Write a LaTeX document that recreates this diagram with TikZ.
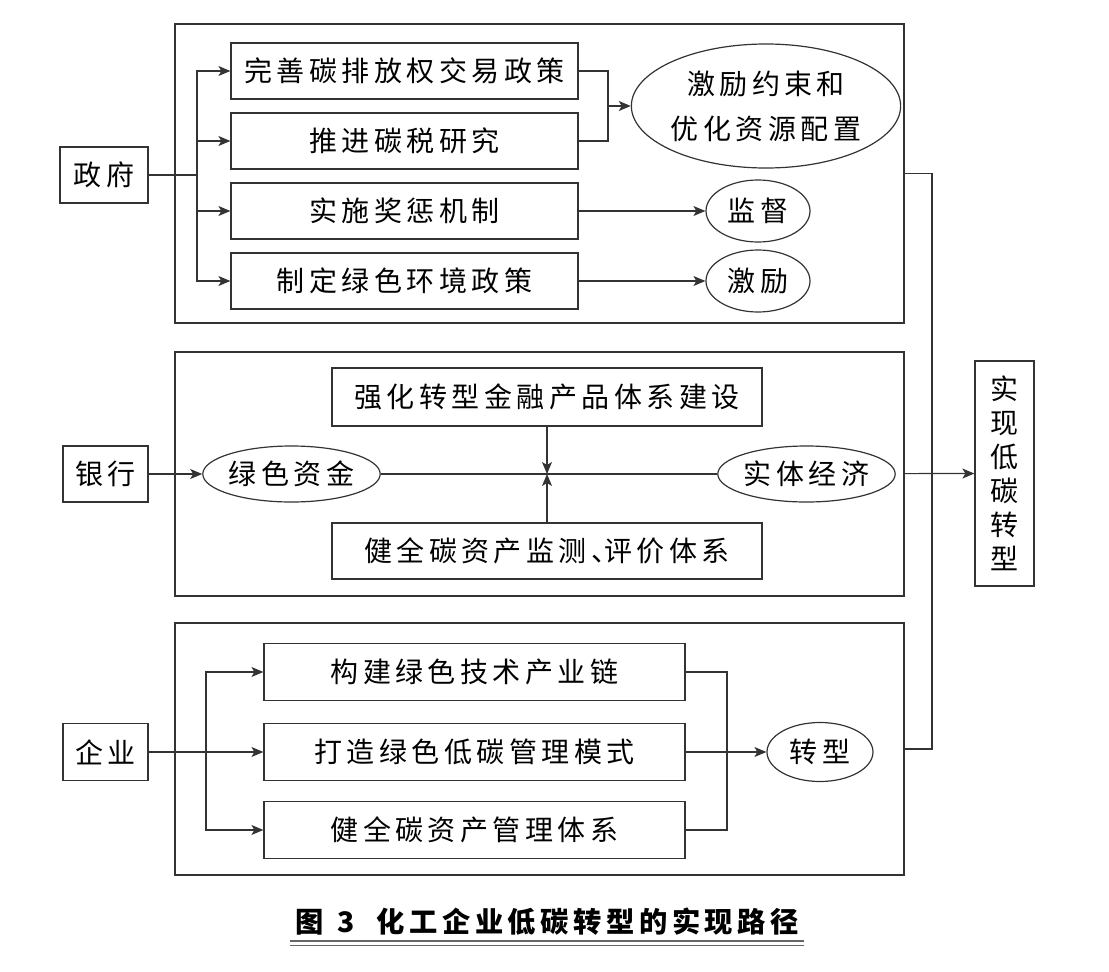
\documentclass[tikz,border=0pt]{standalone}
\usepackage{fontspec}
\setmainfont{Noto Sans CJK SC}[LetterSpace=16]
\usetikzlibrary{arrows,arrows.meta,positioning,shapes}
\tikzstyle{bx}=[draw, rectangle, inner sep=0pt, minimum height=56]
\tikzstyle{el}=[draw, ellipse, inner sep=0pt, align=center]
\tikzstyle{frame}=[draw, rectangle, inner sep=0pt, minimum width=729]

\begin{document}
\begin{tikzpicture}
[x=1pt, y=-1pt, node distance=70pt, >={Stealth[length=12pt,width=10pt,inset=3pt]},
 line width=1.2pt, draw=black!80, font=\fontsize{28}{40}\selectfont]
\useasboundingbox (0,0) rectangle (1109,972);
% frames
\node[frame, minimum height=299] (G) at (539.5,173.5) {};
\node[frame, minimum height=244] (B) at (539.5,474) {};
\node[frame, minimum height=252] (E) at (539.5,749) {};
% government
\node[bx, minimum width=88] (g) at (104,175) {政府};
\node[bx, minimum width=347] (g1) at (404.5,71) {完善碳排放权交易政策};
\node[bx, minimum width=347] [below of=g1] (g2) {推进碳税研究};
\node[bx, minimum width=347] [below of=g2] (g3) {实施奖惩机制};
\node[bx, minimum width=347] [below of=g3] (g4) {制定绿色环境政策};
\node[el, minimum width=250, minimum height=124, font=\fontsize{28}{45}\selectfont] (o1) at (766,106) {激励约束和\\优化资源配置};
\node[el, minimum width=104, minimum height=62] (o2) at (758,211) {监督};
\node[el, minimum width=104, minimum height=62] (o3) at (758,281) {激励};
\coordinate (gb) at (197,175);
\coordinate (gm) at (608,106);
\draw (g) -- (gb);
\draw[->] (gb) |- (g1);
\draw[->] (gb) |- (g2);
\draw[->] (gb) |- (g3);
\draw[->] (gb) |- (g4);
\draw (g1) -| (gm);
\draw (g2) -| (gm);
\draw[->] (gm) -- (o1);
\draw[->] (g3) -- (o2);
\draw[->] (g4) -- (o3);
% bank
\node[bx, minimum width=85] (b) at (105.5,474) {银行};
\node[el, minimum width=159, minimum height=56] (b1) at (291.5,474) {绿色资金};
\node[el, minimum width=159, minimum height=56] (b2) at (806.5,474) {实体经济};
\node[bx, minimum width=430, minimum height=58] (b3) at (547,397) {强化转型金融产品体系建设};
\node[bx, minimum width=430] (b4) at (547,551) {健全碳资产监测、\kern-15pt 评价体系};
\coordinate (bc) at (547,474);
\draw[->] (b) -- (b1);
\draw (b1) -- (b2);
\draw[->] (b3) -- (bc);
\draw[->] (b4) -- (bc);
% enterprise
\node[bx, minimum width=85, minimum height=57] (e) at (105.5,752) {企业};
\node[bx, minimum width=421, minimum height=57] (e1) at (474.5,672) {构建绿色技术产业链};
\node[bx, minimum width=421, minimum height=57] (e2) at (474.5,752) {打造绿色低碳管理模式};
\node[bx, minimum width=421, minimum height=57] (e3) at (474.5,830) {健全碳资产管理体系};
\node[el, minimum width=106, minimum height=59] (e4) at (820,752) {转型};
\coordinate (eb) at (206,752);
\coordinate (em) at (727,752);
\draw[->] (e) -- (e2);
\draw[->] (eb) |- (e1);
\draw[->] (eb) |- (e3);
\draw (e1) -| (em);
\draw (e3) -| (em);
\draw[->] (e2) -- (e4);
% target
\node[bx, minimum width=59, minimum height=225, align=center, font=\fontsize{28}{34}\selectfont] (t) at (1004.5,473.5) {实\\现\\低\\碳\\转\\型};
\coordinate (j) at (932,474);
\draw (G) -| (j);
\draw (E) -| (j);
\draw[->] (B) -- (t);
% caption
\node[font=\fontsize{28.3}{35}\selectfont\bfseries] (cap) at (547,922) {图\kern14pt 3\kern22pt 化工企业低碳转型的实现路径};
\draw[line width=2.5pt, black!60] (290,941) -- (804,941);
\draw[line width=1pt, black!60] (290,945.5) -- (804,945.5);
\end{tikzpicture}
\end{document}
